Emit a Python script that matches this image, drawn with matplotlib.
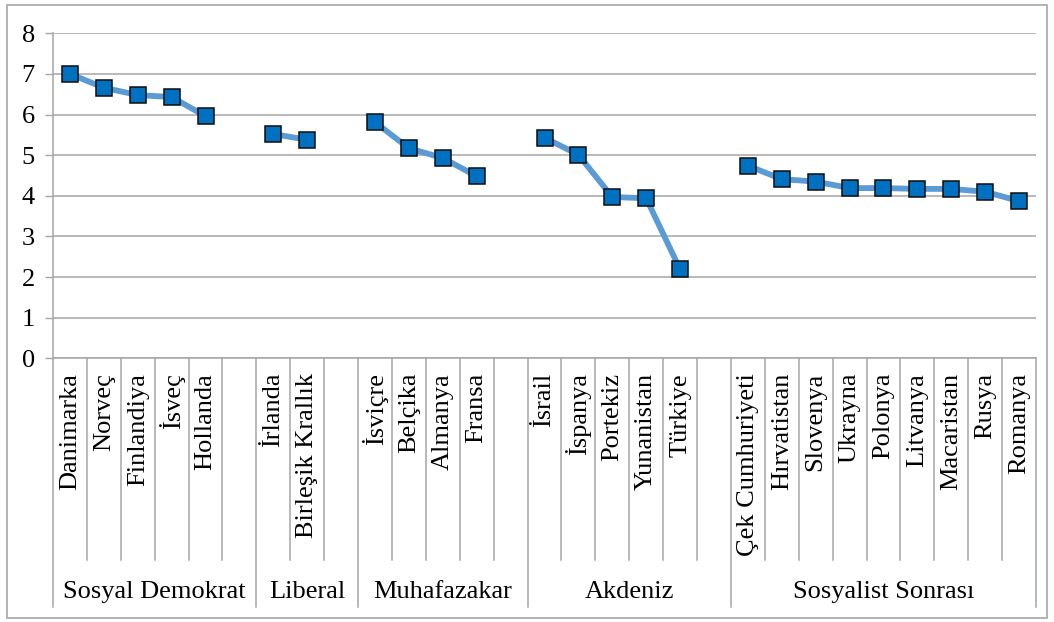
import numpy as np
import matplotlib
matplotlib.use("Agg")
import matplotlib.pyplot as plt
from matplotlib.patches import Rectangle

plt.rcParams["font.family"] = ["Liberation Serif", "DejaVu Serif"]

# regime groups and their countries (a blank slot separates the groups)
groups = ["Sosyal Demokrat", "Liberal", "Muhafazakar", "Akdeniz", "Sosyalist Sonrası"]
sosyal_demokrat = ["Danimarka", "Norveç", "Finlandiya", "İsveç", "Hollanda"]
liberal = ["İrlanda", "Birleşik Krallık"]
muhafazakar = ["İsviçre", "Belçika", "Almanya", "Fransa"]
akdeniz = ["İsrail", "İspanya", "Portekiz", "Yunanistan", "Türkiye"]
sosyalist_sonrasi = ["Çek Cumhuriyeti", "Hırvatistan", "Slovenya", "Ukrayna", "Polonya",
                     "Litvanya", "Macaristan", "Rusya", "Romanya"]

v_sosyal_demokrat = [7.00, 6.66, 6.48, 6.43, 5.96]
v_liberal = [5.52, 5.38]
v_muhafazakar = [5.81, 5.17, 4.93, 4.48]
v_akdeniz = [5.43, 5.01, 3.97, 3.94, 2.19]
v_sosyalist_sonrasi = [4.74, 4.41, 4.35, 4.19, 4.19, 4.17, 4.17, 4.10, 3.87]

members = [sosyal_demokrat, liberal, muhafazakar, akdeniz, sosyalist_sonrasi]
values = [v_sosyal_demokrat, v_liberal, v_muhafazakar, v_akdeniz, v_sosyalist_sonrasi]

# flatten into slots; NaN in the blank slot breaks the line between groups
labels, ys, spans = [], [], []
for gi, (names, vals) in enumerate(zip(members, values)):
    start = len(labels)
    labels += names
    ys += vals
    if gi < len(groups) - 1:
        labels.append("")
        ys.append(np.nan)
    spans.append((start, len(labels)))
x = np.arange(len(labels))
ys = np.array(ys)

FS = 19
GRID = "#a6a6a6"

fig = plt.figure(figsize=(10.54, 6.22), dpi=100)
ax = fig.add_axes([53 / 1054, 1 - 358.3 / 622, (1036 - 53) / 1054, 325 / 622])

ax.plot(x, ys, color="#5b9bd5", lw=4.2, zorder=3, solid_capstyle="round")
ax.plot(x, ys, ls="none", marker="s", ms=11.5, mfc="#0070c0", mec="#0d0d0d", mew=1.1, zorder=4)

ax.set_xlim(-0.5, len(labels) - 0.5)
ax.set_ylim(0, 8)
ax.set_yticks(range(0, 9))
ax.yaxis.grid(True, color=GRID, lw=1.1)
ax.set_axisbelow(True)
ax.tick_params(axis="y", length=6, width=1, color=GRID, labelsize=FS, pad=7)
ax.set_xticks([])
for s in ["top", "right"]:
    ax.spines[s].set_visible(False)
ax.spines["left"].set_color(GRID)
ax.spines["bottom"].set_color(GRID)
ax.spines["left"].set_linewidth(1.1)
ax.spines["bottom"].set_linewidth(1.1)

# two-level category axis drawn below the plot
tr = ax.get_xaxis_transform()
inner_bottom, outer_bottom = -0.62, -0.765
group_edges = {spans[0][0] - 0.5} | {b - 0.5 for _, b in spans}
for i in range(len(labels) + 1):
    xe = i - 0.5
    yb = outer_bottom if xe in group_edges else inner_bottom
    ax.plot([xe, xe], [0, yb], transform=tr, color=GRID, lw=1.1, clip_on=False)
for xi, name in zip(x, labels):
    if name:
        ax.text(xi, -0.045, name, transform=tr, rotation=90, ha="center", va="top",
                fontsize=FS, clip_on=False)
for g, (a, b) in zip(groups, spans):
    ax.text((a + b - 1) / 2, -0.72, g, transform=tr, ha="center", va="center",
            fontsize=FS, clip_on=False)

# outer chart border
fig.patches.append(Rectangle((7 / 1054, 4 / 622), 1040 / 1054, 613 / 622, transform=fig.transFigure,
                             fill=False, ec="#a6a6a6", lw=1.2))

fig.savefig("out.png", dpi=100)
